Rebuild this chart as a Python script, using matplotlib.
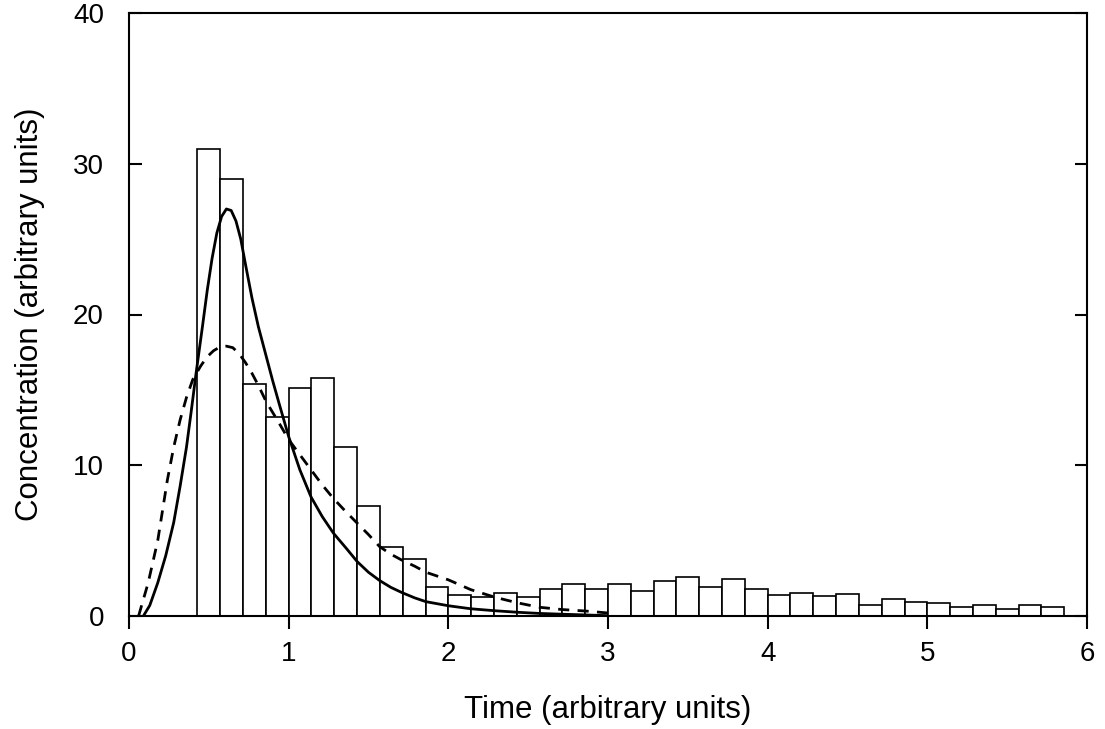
import numpy as np
import matplotlib
matplotlib.use("Agg")
import matplotlib.pyplot as plt

plt.rcParams['font.family'] = ['Liberation Sans', 'DejaVu Sans']

# Histogram of measured concentration (bins of 1/7 time unit starting at 3/7)
bin_start = 3 / 7
bin_width = 1 / 7
bar_heights = [31.0, 29.0, 15.4, 13.2, 15.1, 15.8, 11.2, 7.3, 4.6, 3.8,
               1.95, 1.4, 1.25, 1.5, 1.25, 1.8, 2.1, 1.8, 2.1, 1.65,
               2.3, 2.6, 1.9, 2.45, 1.8, 1.4, 1.55, 1.3, 1.45, 0.75,
               1.15, 0.95, 0.85, 0.6, 0.75, 0.45, 0.7, 0.6]

# Solid fitted curve
solid_t = [0.09, 0.13, 0.18, 0.23, 0.28, 0.32, 0.36, 0.39, 0.42, 0.46, 0.49,
           0.52, 0.55, 0.58, 0.61, 0.64, 0.67, 0.70, 0.73, 0.77, 0.81, 0.86,
           0.90, 0.94, 1.00, 1.07, 1.14, 1.21, 1.28, 1.36, 1.43, 1.50, 1.57,
           1.64, 1.71, 1.79, 1.86, 2.00, 2.14, 2.29, 2.43, 2.57, 2.71, 2.86,
           3.00]
solid_c = [0.0, 0.7, 2.2, 4.0, 6.2, 8.6, 11.2, 13.6, 16.1, 19.2, 21.6,
           23.7, 25.4, 26.5, 27.0, 26.9, 26.2, 25.0, 23.3, 21.1, 19.2, 17.2,
           15.6, 14.1, 11.9, 9.7, 7.9, 6.6, 5.5, 4.5, 3.6, 2.9, 2.35,
           1.9, 1.55, 1.2, 0.95, 0.68, 0.48, 0.35, 0.25, 0.17, 0.12, 0.07,
           0.02]

# Dashed fitted curve
dash_t = [0.06, 0.12, 0.18, 0.24, 0.28, 0.32, 0.36, 0.40, 0.45, 0.49, 0.53,
          0.57, 0.61, 0.65, 0.69, 0.73, 0.77, 0.81, 0.86, 0.94, 1.00, 1.07,
          1.14, 1.21, 1.28, 1.36, 1.43, 1.50, 1.57, 1.64, 1.71, 1.79, 1.86,
          2.00, 2.14, 2.29, 2.43, 2.57, 2.71, 2.86, 3.00]
dash_c = [0.0, 2.2, 5.0, 9.0, 11.2, 13.0, 14.5, 15.7, 16.6, 17.2, 17.6,
          17.85, 17.9, 17.8, 17.4, 16.8, 16.1, 15.3, 14.2, 12.8, 11.7, 10.7,
          9.7, 8.7, 7.8, 6.9, 6.15, 5.4, 4.6, 4.1, 3.7, 3.3, 2.9,
          2.4, 1.75, 1.25, 0.88, 0.58, 0.43, 0.33, 0.2]

x_ticks = [0, 1, 2, 3, 4, 5, 6]
y_ticks = [0, 10, 20, 30, 40]

fig = plt.figure(figsize=(11.05, 7.29), dpi=100)
ax = fig.add_axes([129 / 1105, 1 - 616 / 729, (1087 - 129) / 1105, (616 - 13) / 729])

lefts = bin_start + bin_width * np.arange(len(bar_heights))
ax.bar(lefts, bar_heights, width=bin_width, align='edge',
       facecolor='white', edgecolor='black', linewidth=1.2, zorder=2)

ax.plot(solid_t, solid_c, color='black', linewidth=2.0, zorder=3,
        solid_capstyle='butt', solid_joinstyle='round')
ax.plot(dash_t, dash_c, color='black', linewidth=2.0, zorder=3,
        linestyle=(0, (4, 3)), dash_capstyle='butt')

ax.set_xlim(0, 6)
ax.set_ylim(0, 40)
ax.set_xticks(x_ticks)
ax.set_yticks(y_ticks)
ax.set_xticklabels([str(v) for v in x_ticks])
ax.set_yticklabels([str(v) for v in y_ticks])

for sp in ax.spines.values():
    sp.set_linewidth(1.5)
    sp.set_color('black')

ax.tick_params(axis='x', direction='out', length=9, width=1.5,
               labelsize=20, pad=9, top=False)
ax.tick_params(axis='y', direction='in', length=9, width=1.5,
               labelsize=20, pad=18, right=True)

ax.set_xlabel('Time (arbitrary units)', fontsize=22.5, labelpad=20)
ax.set_ylabel('Concentration (arbitrary units)', fontsize=22.5, labelpad=20)

fig.savefig('out.png', dpi=100)
